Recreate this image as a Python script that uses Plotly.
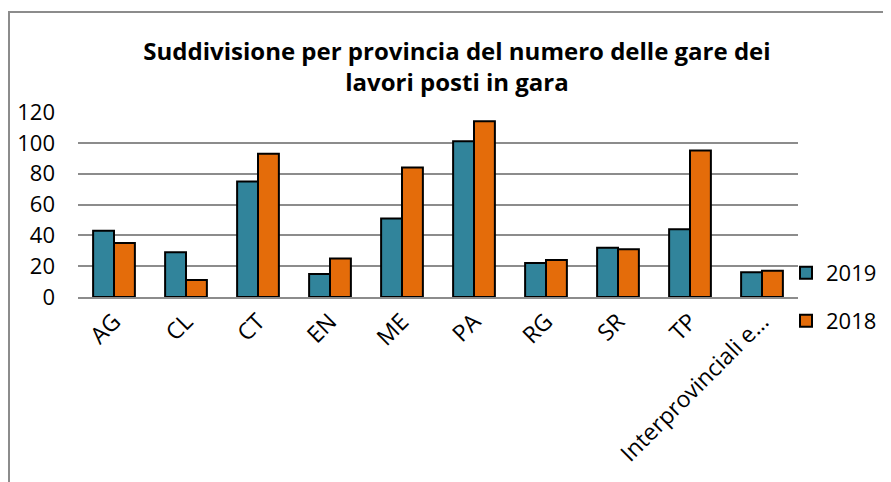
import plotly.graph_objects as go

categories = ["AG", "CL", "CT", "EN", "ME", "PA", "RG", "SR", "TP", "Interprovinciali e…"]
values_2019 = [43, 29, 75, 15, 51, 101, 22, 32, 44, 16]
values_2018 = [35, 11, 93, 25, 84, 114, 24, 31, 95, 17]
y_ticks = [0, 20, 40, 60, 80, 100, 120]

teal = "#31849B"
orange = "#E46C0A"
grid = "#8C8C8C"
font_family = "Open Sans, Liberation Sans, sans-serif"

fig = go.Figure()
fig.add_trace(go.Bar(name="2019", x=categories, y=values_2019,
                     marker=dict(color=teal, line=dict(color="black", width=2)),
                     legend="legend"))
fig.add_trace(go.Bar(name="2018", x=categories, y=values_2018,
                     marker=dict(color=orange, line=dict(color="black", width=2)),
                     legend="legend2"))

OFF = 8  # page body margin
W, H = 891, 482
L, T = 78 - OFF, 112 - OFF
R = W - (798 - OFF)
B = H - (297 - OFF)
pw, ph = W - L - R, H - T - B

def px2x(px):
    return (px - OFF - L) / pw

def py2y(py):
    return (H - B - (py - OFF)) / ph

fig.update_layout(
    width=W, height=H,
    margin=dict(l=L, r=R, t=T, b=B, autoexpand=False),
    paper_bgcolor="white", plot_bgcolor="white",
    barmode="group", bargap=0.42, bargroupgap=0,
    showlegend=True,
    font=dict(family=font_family, size=22, color="black"),
    title=dict(text="<b>Suddivisione per provincia del numero delle gare dei<br>lavori posti in gara</b>",
               x=(457 - OFF) / W, xref="container", xanchor="center",
               y=1 - (60 - OFF) / H, yref="container", yanchor="top",
               font=dict(family=font_family, size=24, color="black")),
    xaxis=dict(tickangle=-45, showgrid=False, showline=True, linecolor=grid, linewidth=2,
               ticks="", tickfont=dict(size=23)),
    yaxis=dict(range=[0, 120], tickvals=y_ticks, showgrid=True, gridcolor=grid, gridwidth=2,
               zeroline=False, showline=False, ticks="", tickfont=dict(size=22),
               ticklabelstandoff=22),
    legend=dict(x=px2x(786), y=py2y(273), xanchor="left", yanchor="middle",
                font=dict(size=22), bgcolor="rgba(0,0,0,0)", itemwidth=30),
    legend2=dict(x=px2x(786), y=py2y(321), xanchor="left", yanchor="middle",
                 font=dict(size=22), bgcolor="rgba(0,0,0,0)", itemwidth=30),
    shapes=[dict(type="rect", xref="paper", yref="paper",
                 x0=px2x(9), x1=px2x(1000), y0=py2y(700), y1=py2y(12),
                 line=dict(color=grid, width=2), fillcolor="rgba(0,0,0,0)", layer="below")],
)

fig.write_html("out.html")
